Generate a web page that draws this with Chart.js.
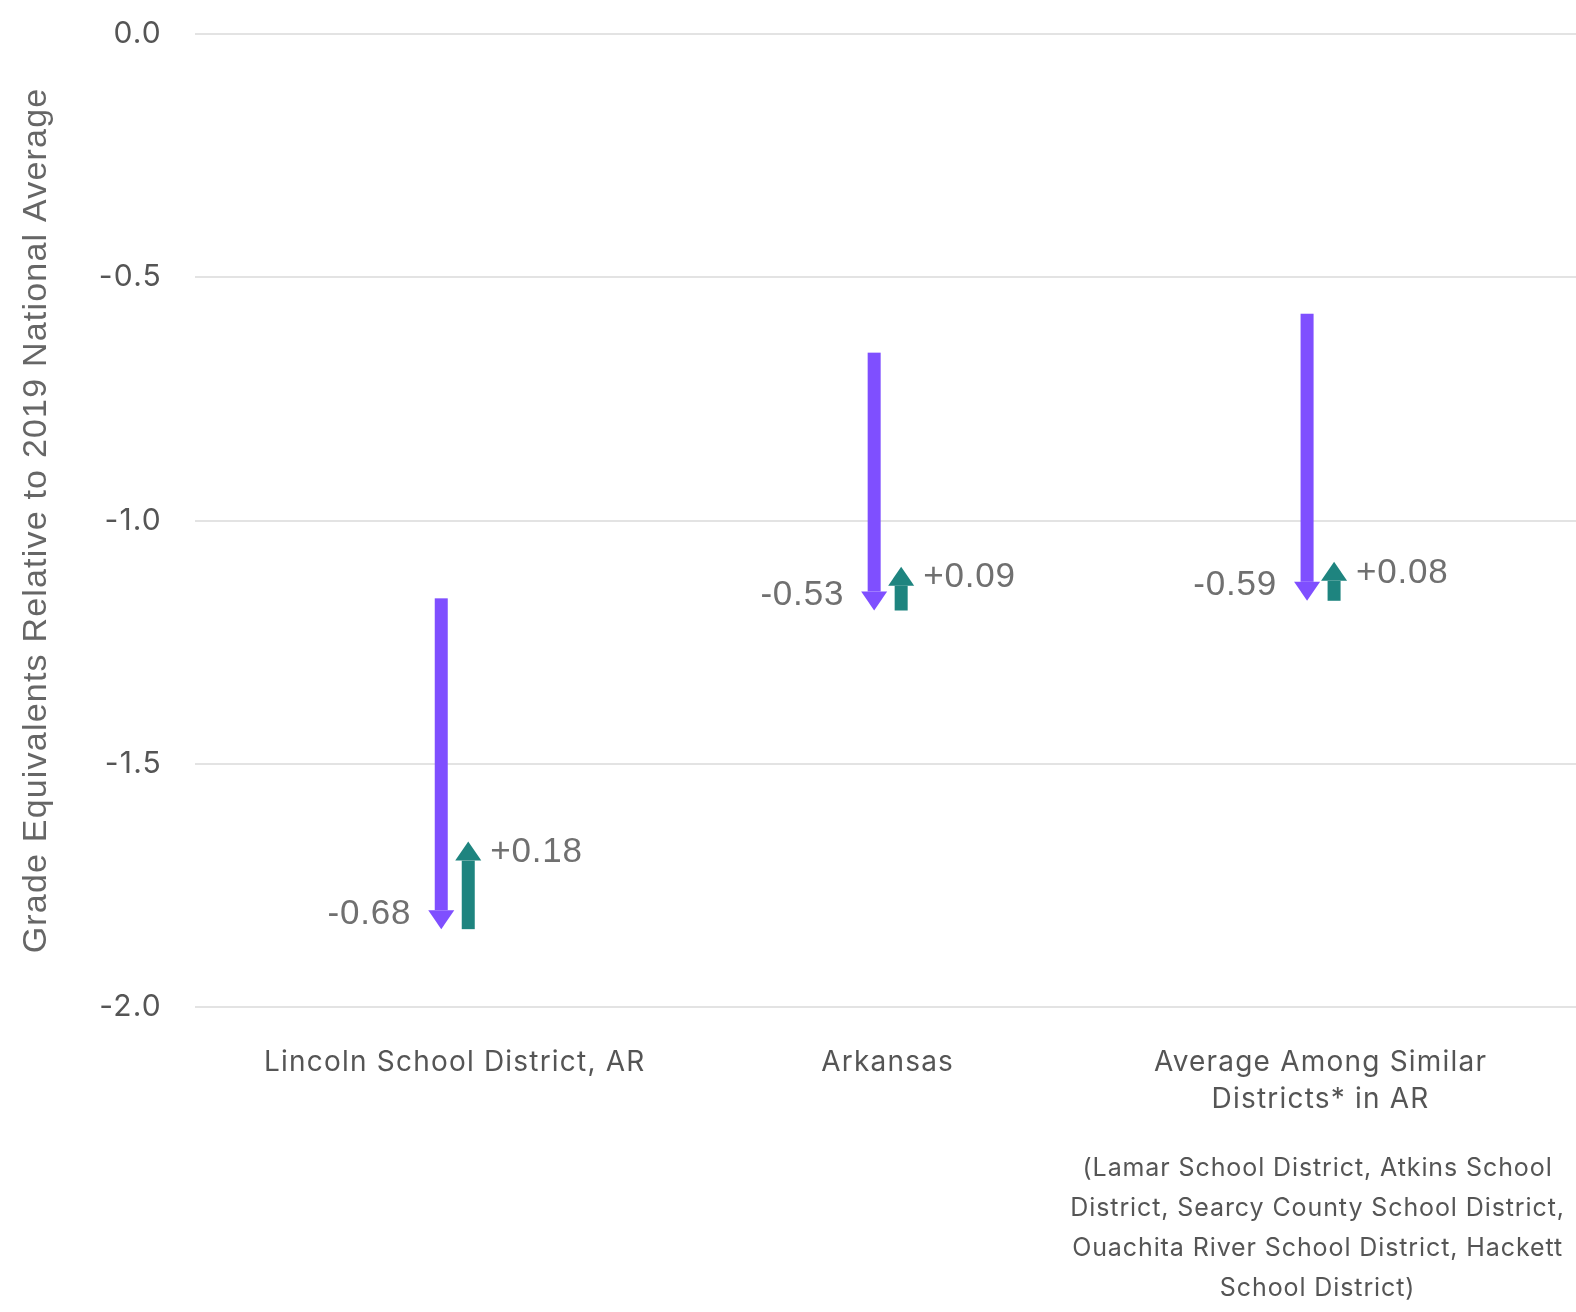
<!DOCTYPE html>
<html>
<head>
<meta charset="utf-8">
<script src="https://cdn.jsdelivr.net/npm/chart.js@4/dist/chart.umd.min.js"></script>
<style>
  html, body { margin: 0; padding: 0; background: #fff; }
  canvas { display: block; }
</style>
</head>
<body>
<canvas id="chart" width="1576" height="1312"></canvas>
<script>
// categories and values
const categories = [
    ['Lincoln School District, AR'],
    ['Arkansas'],
    ['Average Among Similar', 'Districts* in AR'],
];
const startValues = [-1.16, -0.655, -0.575];   // top of the purple arrow
const dropValues = [-0.68, -0.53, -0.59];      // purple arrow (down)
const gainValues = [0.18, 0.09, 0.08];         // teal arrow (up)
const yTicks = [0, -0.5, -1.0, -1.5, -2.0];
const noteLines = [
    '(Lamar School District, Atkins School',
    'District, Searcy County School District,',
    'Ouachita River School District, Hackett',
    'School District)',
];

const colors = {
    purple: '#7f4fff',
    teal: '#1e847f',
    grid: '#e3e3e3',
    tick: '#555555',
    label: '#707070',
};

const endValues = startValues.map((s, i) => s + dropValues[i]);

const fmt = (v) => (v > 0 ? '+' : '') + v.toFixed(2);

// the reference text is a little loosely tracked
const spacingPlugin = {
    id: 'spacing',
    beforeDraw(chart) {
        chart.ctx.letterSpacing = '1.2px';
    }
};

const arrowPlugin = {
    id: 'arrows',
    afterDatasetsDraw(chart) {
        const ctx = chart.ctx;
        const yScale = chart.scales.y;
        chart.data.datasets.forEach((ds, di) => {
            const meta = chart.getDatasetMeta(di);
            meta.data.forEach((bar, i) => {
                const [from, to] = ds.data[i].y;
                const tail = yScale.getPixelForValue(from);
                const tip = yScale.getPixelForValue(to);
                const dir = tip > tail ? 1 : -1;
                const headLen = 19, headW = 26, shaftW = bar.width;
                const neck = tip - dir * headLen;
                const x = bar.x;
                ctx.save();
                ctx.fillStyle = ds.arrowColor;
                ctx.fillRect(x - shaftW / 2, Math.min(tail, neck), shaftW, Math.abs(neck - tail));
                ctx.beginPath();
                ctx.moveTo(x - headW / 2, neck);
                ctx.lineTo(x + headW / 2, neck);
                ctx.lineTo(x, tip);
                ctx.closePath();
                ctx.fill();

                ctx.font = "35px 'Liberation Sans', Arial, sans-serif";
                ctx.letterSpacing = '0.8px';
                ctx.fillStyle = colors.label;
                ctx.textBaseline = 'middle';
                if (dir > 0) {
                    ctx.textAlign = 'right';
                    ctx.fillText(fmt(ds.deltas[i]), x - 30, tip - 15);
                } else {
                    ctx.textAlign = 'left';
                    ctx.fillText(fmt(ds.deltas[i]), x + 22, tip + 11);
                }
                ctx.restore();
            });
        });
    }
};

const notePlugin = {
    id: 'note',
    afterDraw(chart) {
        const ctx = chart.ctx;
        const x = chart.scales.x.getPixelForValue(2);
        ctx.save();
        ctx.font = "25px Inter, sans-serif";
        ctx.letterSpacing = '0.9px';
        ctx.fillStyle = colors.tick;
        ctx.textAlign = 'center';
        ctx.textBaseline = 'middle';
        noteLines.forEach((line, i) => {
            ctx.fillText(line, x - 3, 1168 + i * 40);
        });
        ctx.restore();
    }
};

const config = {
    type: 'bar',
    data: {
        datasets: [
            {
                label: 'Drop',
                data: categories.map((c, i) => ({ x: i, y: [startValues[i], endValues[i]] })),
                deltas: dropValues,
                arrowColor: colors.purple,
                backgroundColor: 'rgba(0,0,0,0)',
            },
            {
                label: 'Recovery',
                data: categories.map((c, i) => ({ x: i, y: [endValues[i], endValues[i] + gainValues[i]] })),
                deltas: gainValues,
                arrowColor: colors.teal,
                backgroundColor: 'rgba(0,0,0,0)',
            },
        ]
    },
    options: {
        responsive: false,
        animation: false,
        devicePixelRatio: 1,
        barThickness: 27,
        maxBarThickness: 13,
        layout: { padding: { top: 34, right: 0, left: 0, bottom: 0 } },
        plugins: {
            legend: { display: false },
            tooltip: { enabled: false },
        },
        scales: {
            x: {
                type: 'linear',
                offset: false,
                min: -0.6,
                max: 2.59,
                afterBuildTicks: (scale) => { scale.ticks = categories.map((c, i) => ({ value: i })); },
                afterFit: (scale) => { scale.height = 305; },
                grid: { display: false, drawTicks: false },
                border: { display: false },
                ticks: {
                    padding: 38,
                    color: colors.tick,
                    maxRotation: 0,
                    font: { family: 'Inter', size: 28, lineHeight: 1.29 },
                    callback: (v) => categories[v],
                },
            },
            y: {
                min: -2,
                max: 0,
                afterBuildTicks: (scale) => { scale.ticks = yTicks.map(v => ({ value: v })); },
                afterFit: (scale) => {
                    scale.width = 195;
                    scale.paddingTop = 0;
                    scale.paddingBottom = 0;
                },
                grid: { color: colors.grid, lineWidth: 2, drawTicks: false },
                border: { display: false },
                ticks: {
                    padding: 33,
                    color: colors.tick,
                    font: { family: 'Inter', size: 30 },
                    callback: (v) => v.toFixed(1),
                },
                title: {
                    display: true,
                    text: 'Grade Equivalents Relative to 2019 National Average',
                    color: '#666666',
                    font: { family: "'Liberation Sans', Arial, sans-serif", size: 34 },
                    padding: { top: 16, bottom: 0 },
                },
            },
        },
    },
    plugins: [spacingPlugin, arrowPlugin, notePlugin],
};

new Chart(document.getElementById('chart'), config);
</script>
</body>
</html>
